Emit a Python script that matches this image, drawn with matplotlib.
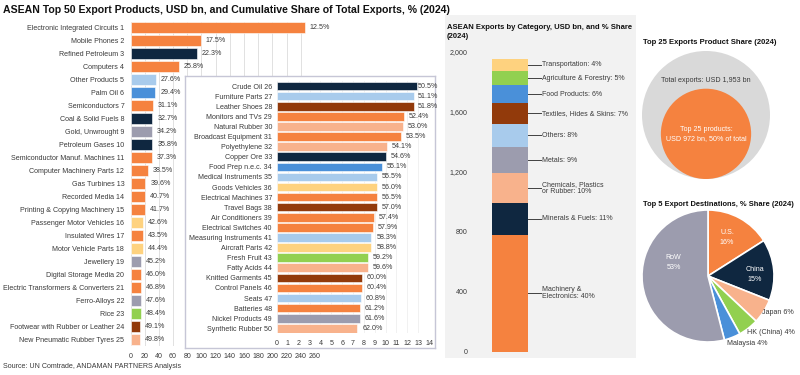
import matplotlib
matplotlib.use("Agg")
import matplotlib.pyplot as plt
from matplotlib.patches import Rectangle, Circle
import numpy as np

plt.rcParams['font.family'] = ['Liberation Sans', 'DejaVu Sans']

# ---------------- data ----------------
main_labels = ["Electronic Integrated Circuits 1", "Mobile Phones 2", "Refined Petroleum 3", "Computers 4",
               "Other Products 5", "Palm Oil 6", "Semiconductors 7", "Coal & Solid Fuels 8", "Gold, Unwrought 9",
               "Petroleum Gases 10", "Semiconductor Manuf. Machines 11", "Computer Machinery Parts 12",
               "Gas Turbines 13", "Recorded Media 14", "Printing & Copying Machinery 15",
               "Passenger Motor Vehicles 16", "Insulated Wires 17", "Motor Vehicle Parts 18", "Jewellery 19",
               "Digital Storage Media 20", "Electric Transformers & Converters 21", "Ferro-Alloys 22", "Rice 23",
               "Footwear with Rubber or Leather 24", "New Pneumatic Rubber Tyres 25"]
main_values = [246, 99, 94, 68, 36, 35, 32, 31, 30, 31, 30, 24, 21, 20, 20, 18, 17, 17, 15, 15, 15, 15, 15, 13, 13]
main_cum = [12.5, 17.5, 22.3, 25.8, 27.6, 29.4, 31.1, 32.7, 34.2, 35.8, 37.3, 38.5, 39.6, 40.7, 41.7,
            42.6, 43.5, 44.4, 45.2, 46.0, 46.8, 47.6, 48.4, 49.1, 49.8]
main_cat = ["M", "M", "F", "M", "O", "FP", "M", "F", "Met", "F", "M", "M", "M", "M", "M",
            "T", "M", "T", "Met", "M", "M", "Met", "A", "Tex", "C"]

inset_labels = ["Crude Oil 26", "Furniture Parts 27", "Leather Shoes 28", "Monitors and TVs 29", "Natural Rubber 30",
                "Broadcast Equipment 31", "Polyethylene 32", "Copper Ore 33", "Food Prep n.e.c. 34",
                "Medical Instruments 35", "Goods Vehicles 36", "Electrical Machines 37", "Travel Bags 38",
                "Air Conditioners 39", "Electrical Switches 40", "Measuring Instruments 41", "Aircraft Parts 42",
                "Fresh Fruit 43", "Fatty Acids 44", "Knitted Garments 45", "Control Panels 46", "Seats 47",
                "Batteries 48", "Nickel Products 49", "Synthetic Rubber 50"]
inset_values = [12.9, 12.6, 12.6, 11.7, 11.6, 11.4, 10.1, 10.0, 9.7, 9.2, 9.2, 9.2, 9.2, 8.9, 8.8,
                8.7, 8.7, 8.4, 8.4, 7.8, 7.8, 7.7, 7.6, 7.6, 7.4]
inset_cum = [50.5, 51.1, 51.8, 52.4, 53.0, 53.5, 54.1, 54.6, 55.1, 55.5, 56.0, 56.5, 57.0, 57.4, 57.9,
             58.3, 58.8, 59.2, 59.6, 60.0, 60.4, 60.8, 61.2, 61.6, 62.0]
inset_cat = ["F", "O", "Tex", "M", "C", "M", "C", "F", "FP", "O", "T", "M", "Tex", "M", "M",
             "O", "T", "A", "C", "Tex", "M", "O", "M", "Met", "C"]

cat_names = ["Machinery &\nElectronics", "Minerals & Fuels", "Chemicals, Plastics\nor Rubber", "Metals",
             "Others", "Textiles, Hides & Skins", "Food Products", "Agriculture & Forestry", "Transportation"]
cat_keys = ["M", "F", "C", "Met", "O", "Tex", "FP", "A", "T"]
cat_values = [781, 215, 195, 176, 156, 137, 117, 98, 78]
cat_shares = [40, 11, 10, 9, 8, 7, 6, 5, 4]

total_exports = 1953
top25_exports = 972
top25_share = 50

dest_labels = ["U.S.", "China", "Japan", "HK (China)", "Malaysia", "RoW"]
dest_values = [16, 15, 6, 5, 4, 54]
dest_text = ["16%", "15%", "6%", "4%", "4%", "53%"]

colors = {"M": "#F5823F", "F": "#0F2740", "C": "#F8B28C", "Met": "#9C9CAE", "O": "#A8CBEC",
          "Tex": "#923A0B", "FP": "#4A90D9", "A": "#92D050", "T": "#FED27F"}
dest_colors = ["#F5823F", "#0F2740", "#F8B28C", "#92D050", "#4A90D9", "#9C9CAE"]

TXT = "#3A3A3A"
FS = 5.1

W, H = 800, 375
fig = plt.figure(figsize=(8, 3.75), dpi=100)


def fx(px):
    return px / W


def fy(py):
    return 1 - py / H


# gray middle panel background
fig.patches.append(Rectangle((fx(445), fy(358)), fx(636) - fx(445), (358 - 15) / H,
                             transform=fig.transFigure, facecolor="#F2F2F2", edgecolor="none", zorder=0))

# ---------------- main chart ----------------
ax = fig.add_axes([fx(130.5), fy(345.5), 184.5 / W, 324 / H], zorder=1)
ax.set_facecolor("none")
y1 = np.arange(1, 26)
ax.barh(y1, main_values, height=0.85, color=[colors[c] for c in main_cat], edgecolor="white",
        linewidth=0.4, zorder=3)
for yy, v, c in zip(y1, main_values, main_cum):
    ax.annotate(f"{c:.1f}%", (v, yy), xytext=(3.5, 0), textcoords="offset points", va="center",
                ha="left", fontsize=FS, color=TXT, annotation_clip=False)
ax.set_xlim(0, 260)
ax.set_ylim(25.5, 0.5)
ax.set_xticks(np.arange(0, 261, 20))
ax.set_yticks(y1)
ax.set_yticklabels(main_labels)
ax.tick_params(length=0, labelsize=FS, colors=TXT)
ax.tick_params(axis="y", pad=4.5)
ax.tick_params(axis="x", pad=5.5)
ax.grid(axis="x", color="#DCDCDC", linewidth=0.6, zorder=0)
ax.set_axisbelow(True)
for s in ax.spines.values():
    s.set_visible(False)

# inset box
bx = fig.add_axes([fx(185), fy(348), 250 / W, 272 / H], zorder=2)
bx.set_facecolor("white")
bx.set_xticks([])
bx.set_yticks([])
for s in bx.spines.values():
    s.set_color("#C6C6D6")
    s.set_linewidth(1.0)

# inset chart
ix = fig.add_axes([fx(277), fy(333.4), 152 / W, 252.4 / H], zorder=3)
ix.set_facecolor("none")
y2 = np.arange(26, 51)
ix.barh(y2, inset_values, height=0.85, color=[colors[c] for c in inset_cat], edgecolor="white",
        linewidth=0.4, zorder=3)
for yy, v, c in zip(y2, inset_values, inset_cum):
    xpos = min(v + 0.45, 12.95)
    ix.text(xpos, yy, f"{c:.1f}%", va="center", ha="left", fontsize=FS, color=TXT, clip_on=False)
ix.set_xlim(0, 14)
ix.set_ylim(50.5, 25.5)
ix.set_xticks(np.arange(0, 15, 1))
ix.set_yticks(y2)
ix.set_yticklabels(inset_labels)
ix.tick_params(length=0, labelsize=FS, colors=TXT)
ix.tick_params(axis="y", pad=3.6)
ix.tick_params(axis="x", pad=5)
ix.grid(axis="x", color="#EBEBEB", linewidth=0.5, zorder=0)
ix.set_axisbelow(True)
for s in ix.spines.values():
    s.set_visible(False)

fig.text(fx(3), fy(10), "ASEAN Top 50 Export Products, USD bn, and Cumulative Share of Total Exports, % (2024)",
         fontsize=7.6, fontweight="bold", color="#111111", ha="left", va="center")
fig.text(fx(3), fy(367), "Source: UN Comtrade, ANDAMAN PARTNERS Analysis", fontsize=FS, color=TXT,
         ha="left", va="center")

# ---------------- middle stacked bar ----------------
mx = fig.add_axes([fx(474), fy(352), 156 / W, 300 / H], zorder=1)
mx.set_facecolor("none")
bottom = 0
bx_c, bw = 0.231, 0.231
for name, key, val, sh in zip(cat_names, cat_keys, cat_values, cat_shares):
    mx.bar(bx_c, val, width=bw, bottom=bottom, color=colors[key], edgecolor="none")
    mid = bottom + val / 2
    mx.plot([bx_c + bw / 2, bx_c + bw / 2 + 0.085], [mid, mid], color="#404040", linewidth=0.7)
    mx.text(bx_c + bw / 2 + 0.09, mid, f"{name}: {sh}%", fontsize=5.0, color=TXT, va="center",
            ha="left", linespacing=1.0)
    bottom += val
mx.set_xlim(0, 1)
mx.set_ylim(0, 2000)
mx.set_yticks(np.arange(0, 2001, 400))
mx.set_yticklabels([f"{v:,}" for v in range(0, 2001, 400)])
mx.set_xticks([])
mx.tick_params(length=0, labelsize=FS, colors=TXT, pad=4.5)
for s in mx.spines.values():
    s.set_visible(False)
fig.text(fx(447), fy(32), "ASEAN Exports by Category, USD bn, and % Share\n(2024)", fontsize=5.5,
         fontweight="bold", color="#111111", ha="left", va="center", linespacing=1.35)

# ---------------- top 25 circles ----------------
cx = fig.add_axes([fx(636), fy(190), 164 / W, 175 / H], zorder=1)
cx.set_xlim(636, 800)
cx.set_ylim(185, 360)
cx.axis("off")
R = 64
r = R * np.sqrt(top25_exports / total_exports)
c0 = (706, 260)
cx.add_patch(Circle(c0, R, facecolor="#D9D9D9", edgecolor="none"))
cx.add_patch(Circle((c0[0], c0[1] - R + r), r, facecolor="#F5823F", edgecolor="none"))
cx.text(c0[0], 295, f"Total exports: USD {total_exports:,} bn", fontsize=FS, color=TXT, ha="center",
        va="center")
cx.text(c0[0], c0[1] - R + r, f"Top 25 products:\nUSD {top25_exports} bn, {top25_share}% of total",
        fontsize=FS, color="white", ha="center", va="center", linespacing=1.5)
fig.text(fx(643), fy(43), "Top 25 Exports Product Share (2024)", fontsize=5.5, fontweight="bold",
         color="#111111", ha="left", va="center")

# ---------------- pie ----------------
px = fig.add_axes([fx(628), fy(356), 160 / W, 160 / H], zorder=1)
wedges, _ = px.pie(dest_values, colors=dest_colors, startangle=90, counterclock=False,
                   wedgeprops=dict(edgecolor="white", linewidth=1.2))
px.set_xlim(-1.212, 1.212)
px.set_ylim(-1.212, 1.212)
px.set_aspect("equal")
inside = {0: (0.29, 0.58), 1: (0.71, 0.03), 5: (-0.52, 0.2)}
for i, (xx, yy) in inside.items():
    px.text(xx, yy, f"{dest_labels[i]}\n{dest_text[i]}", color="white", fontsize=FS, ha="center",
            va="center", linespacing=1.6)
outside = {2: (0.82, -0.56), 3: (0.59, -0.85), 4: (0.29, -1.03)}
for i, (xx, yy) in outside.items():
    px.text(xx, yy, f"{dest_labels[i]} {dest_text[i]}", color=TXT, fontsize=FS, ha="left", va="center")
fig.text(fx(643), fy(204), "Top 5 Export Destinations, % Share (2024)", fontsize=5.4, fontweight="bold",
         color="#111111", ha="left", va="center")

fig.savefig("out.png", dpi=100)
